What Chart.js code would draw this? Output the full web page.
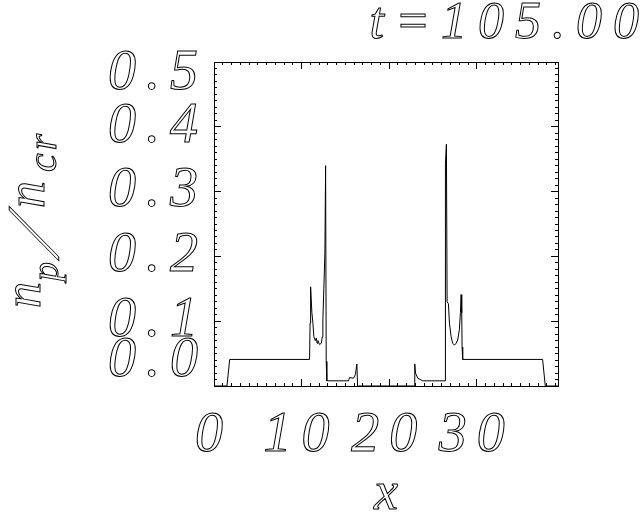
<!DOCTYPE html>
<html>
<head>
<meta charset="utf-8">
<script src="https://cdn.jsdelivr.net/npm/chart.js@4/dist/chart.umd.min.js"></script>
<style>
  html, body { margin: 0; padding: 0; background: #fff; }
  #wrap { width: 642px; height: 515px; }
</style>
</head>
<body>
<div id="wrap"><canvas id="myChart" width="642" height="515"></canvas></div>
<script>
// profile (x, n_p/n_cr)
const xValues = [0, 1.48, 1.79, 10.91, 10.97, 11.03, 11.17, 11.29, 11.40, 11.56, 11.68, 11.77, 11.86, 12.05, 12.25, 12.36, 12.43, 12.54, 12.66, 12.74, 12.81, 12.88,
  15.36, 15.47, 15.93, 16.15, 16.31, 16.39, 22.88, 22.92, 23.0, 23.26, 23.83,
  26.38, 26.42, 26.53, 26.61, 26.76, 26.88, 27.07, 27.25, 27.45, 27.64, 27.82, 28.01, 28.13, 28.21, 28.28, 28.32, 28.39,
  37.51, 37.82, 39.27]
const density = [0, 0, 0.041, 0.041, 0.097, 0.153, 0.114, 0.097, 0.076, 0.070, 0.074, 0.066, 0.070, 0.064, 0.066, 0.076, 0.102, 0.151, 0.205, 0.340, 0.038, 0.008,
  0.008, 0.013, 0.012, 0.018, 0.034, 0, 0, 0.034, 0.020, 0.012, 0.008,
  0.008, 0.344, 0.373, 0.130, 0.127, 0.097, 0.076, 0.066, 0.063, 0.066, 0.071, 0.087, 0.113, 0.141, 0.113, 0.06, 0.041,
  0.041, 0, 0]

const xMajorTicks = [0, 10, 20, 30]
const yMajorTicks = [0, 0.1, 0.2, 0.3, 0.4, 0.5]
const yTickLabels = ['0.0', '0.1', '0.2', '0.3', '0.4', '0.5']
const xMinorTicks = Array.from({length: 40}, (_, i) => i)
const yMinorTicks = Array.from({length: 51}, (_, i) => i / 100)
const xMax = 39.27
const yMax = 0.5
const titleText = 't=105.00'
const xTitle = 'x'

const serif = '"Liberation Serif", "DejaVu Serif", serif'
const points = xValues.map((x, i) => ({x: x, y: density[i]}))

function setTicks(list) {
    return (scale) => { scale.ticks = list.map(v => ({value: v})) }
}

// IDL style: ticks drawn inwards on all four sides
function tickAxis(position, min, max, list, len, weight) {
    return {
        type: 'linear', position: position, min: min, max: max, weight: weight,
        afterBuildTicks: setTicks(list),
        afterFit: (s) => { if (s.isHorizontal()) s.height = 0; else s.width = 0 },
        ticks: {display: false, autoSkip: false},
        grid: {drawOnChartArea: false, tickLength: len, color: '#000', lineWidth: 1},
        border: {display: weight === 0, color: '#000', width: 1}
    }
}

// outlined (hollow) text like the IDL vector font
const tickStyle = {color: 'rgba(0,0,0,0)', textStrokeColor: '#000', textStrokeWidth: 1}

function hollow(ctx, text, x, y, size, spacing) {
    ctx.font = 'italic ' + size + 'px ' + serif
    ctx.letterSpacing = spacing + 'px'
    ctx.strokeText(text, x, y)
}

const labels = {
    id: 'labels',
    beforeDraw(chart) { chart.ctx.letterSpacing = '10px' },
    afterDraw(chart) {
        const ctx = chart.ctx
        const area = chart.chartArea
        ctx.save()
        ctx.strokeStyle = '#000'
        ctx.lineWidth = 1
        ctx.textBaseline = 'alphabetic'

        // title, top right
        ctx.textAlign = 'right'
        hollow(ctx, titleText, 650, 38, 52, 11)

        // x axis title
        ctx.textAlign = 'center'
        hollow(ctx, xTitle, (area.left + area.right) / 2, 509, 54, 0)

        // y axis title n_p / n_cr, rotated
        ctx.textAlign = 'left'
        ctx.translate(40, 220)
        ctx.rotate(-Math.PI / 2)
        hollow(ctx, 'n', -88, 0, 52, 0)
        hollow(ctx, 'p', -61, 18, 38, 0)
        ctx.save()
        ctx.transform(1, 0, -0.5, 1, 0, 0)
        hollow(ctx, '/', -28, 18, 74, 0)
        ctx.restore()
        hollow(ctx, 'n', 12, 4, 54, 0)
        hollow(ctx, 'cr', 48, 16, 42, 3)
        ctx.restore()
    }
}

const canvas = document.getElementById('myChart')
const chart = new Chart(canvas, {
    type: 'line',
    data: {
        datasets: [{
            data: points,
            borderColor: '#000',
            borderWidth: 1,
            pointRadius: 0,
            tension: 0,
            fill: false,
            xAxisID: 'x',
            yAxisID: 'y'
        }]
    },
    options: {
        responsive: false,
        animation: false,
        layout: {padding: {left: 0, right: 84, top: 62, bottom: 0}},
        plugins: {
            legend: {display: false},
            tooltip: {enabled: false},
            title: {display: false}
        },
        scales: {
            x: {
                type: 'linear', position: 'bottom', min: 0, max: xMax, weight: 0,
                afterBuildTicks: setTicks(xMajorTicks),
                afterFit: (s) => { s.height = 129 },
                ticks: Object.assign({
                    autoSkip: false, maxRotation: 0, padding: 29,
                    font: {family: serif, size: 56, style: 'italic', weight: 'normal', lineHeight: 1},
                    callback: (v) => String(v)
                }, tickStyle),
                grid: {drawOnChartArea: false, tickLength: -7, color: '#000', lineWidth: 1},
                border: {display: true, color: '#000', width: 1}
            },
            xMinor: tickAxis('bottom', 0, xMax, xMinorTicks, -3, -1),
            xTop: tickAxis('top', 0, xMax, xMajorTicks, -7, 0),
            xTopMinor: tickAxis('top', 0, xMax, xMinorTicks, -3, -1),
            y: {
                type: 'linear', position: 'left', min: 0, max: yMax, weight: 0,
                afterBuildTicks: setTicks(yMajorTicks),
                afterFit: (s) => { s.width = 214 },
                ticks: Object.assign({
                    autoSkip: false, padding: 13,
                    font: (c) => ({family: serif, size: 56, style: 'italic', weight: 'normal',
                        lineHeight: c.tick && c.tick.value === yMax ? '24px' : '50px'}),
                    callback: (v, i) => {
                        const label = yTickLabels[i]
                        // IDL pushes the end labels inside the axis range
                        if (i === 0) return [label, '']
                        if (i === yTickLabels.length - 1) return ['', label]
                        return label
                    }
                }, tickStyle),
                grid: {drawOnChartArea: false, tickLength: -7, color: '#000', lineWidth: 1},
                border: {display: true, color: '#000', width: 1}
            },
            yMinor: tickAxis('left', 0, yMax, yMinorTicks, -3, -1),
            yRight: tickAxis('right', 0, yMax, yMajorTicks, -7, 0),
            yRightMinor: tickAxis('right', 0, yMax, yMinorTicks, -3, -1)
        }
    },
    plugins: [labels]
})
</script>
</body>
</html>
